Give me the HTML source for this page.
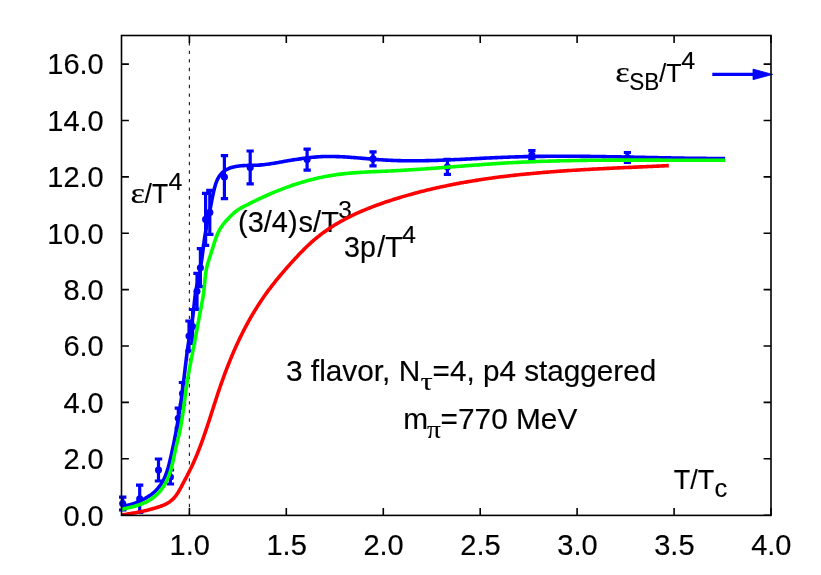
<!DOCTYPE html>
<html><head><meta charset="utf-8"><title>plot</title>
<style>html,body{margin:0;padding:0;background:#fff}svg{display:block;will-change:transform}text{font-family:"Liberation Sans",sans-serif;fill:#000;stroke:#000;stroke-width:0.15px}.g{font-family:"Liberation Serif",serif}</style></head><body>
<svg width="821" height="575" viewBox="0 0 821 575">
<rect width="821" height="575" fill="#fff"/>
<defs><clipPath id="c"><rect x="121.5" y="35.5" width="649.5" height="479.9"/></clipPath></defs>
<line x1="189.4" y1="515.75" x2="189.4" y2="35.5" stroke="#222" stroke-width="1.15" stroke-dasharray="3.4 5.15"/>
<text class="g" transform="translate(130.60 203.40) scale(1.150 1.000)" font-size="30" text-anchor="start">ε</text>
<text transform="translate(144.60 203.40) scale(1.000 1.040)" font-size="26.5" text-anchor="start">/T</text>
<text transform="translate(168.60 189.70) scale(1.000 0.980)" font-size="25" text-anchor="start">4</text>
<text transform="translate(238.00 232.20) scale(1.000 1.040)" font-size="29" text-anchor="start">(3/4)</text>
<text transform="translate(298.60 232.20) scale(1.000 1.040)" font-size="29" text-anchor="start">s/T</text>
<text transform="translate(338.30 217.50) scale(1.000 0.980)" font-size="24.5" text-anchor="start">3</text>
<text transform="translate(344.00 257.40) scale(1.000 1.040)" font-size="28.6" text-anchor="start">3p</text>
<text transform="translate(377.30 257.40) scale(1.000 1.040)" font-size="28.6" text-anchor="start">/T</text>
<text transform="translate(401.90 243.30) scale(1.000 0.980)" font-size="25" text-anchor="start">4</text>
<text class="g" transform="translate(615.30 82.00) scale(1.150 1.000)" font-size="30" text-anchor="start">ε</text>
<text transform="translate(629.20 90.10) scale(1.000 1.040)" font-size="22.5" text-anchor="start">SB</text>
<text transform="translate(659.30 82.00) scale(1.000 1.040)" font-size="25" text-anchor="start">/T</text>
<text transform="translate(681.20 69.30) scale(1.000 0.980)" font-size="25" text-anchor="start">4</text>
<text transform="translate(286.00 381.20) scale(1.000 1.000)" font-size="29.8" text-anchor="start">3 flavor, N</text>
<text class="g" transform="translate(420.40 389.60) scale(1.220 1.000)" font-size="25" text-anchor="start">τ</text>
<text transform="translate(432.60 381.20) scale(1.000 1.000)" font-size="29.7" text-anchor="start">=4, p4 staggered</text>
<text transform="translate(403.20 429.10) scale(1.000 1.000)" font-size="29.8" text-anchor="start">m</text>
<text class="g" transform="translate(427.00 438.00) scale(1.100 1.000)" font-size="25" text-anchor="start">π</text>
<text transform="translate(440.60 429.10) scale(1.000 1.000)" font-size="29.8" text-anchor="start">=770 MeV</text>
<text transform="translate(673.80 488.80) scale(1.000 1.040)" font-size="27" text-anchor="start">T/T</text>
<text transform="translate(714.60 497.10) scale(1.000 1.040)" font-size="25.5" text-anchor="start">c</text>
<g fill="none" stroke-linejoin="round">
<path d="M122.7 497.2V510.0 M119.0 497.2H126.4 M119.0 510.0H126.4 M139.7 485.2V512.5 M136.0 485.2H143.3 M136.0 512.5H143.3 M158.5 459.0V481.0 M154.8 459.0H162.2 M154.8 481.0H162.2 M170.4 470.0V484.0 M166.8 470.0H174.1 M166.8 484.0H174.1 M178.3 408.2V428.2 M174.7 408.2H182.0 M174.7 428.2H182.0 M182.5 382.5V404.5 M178.8 382.5H186.2 M178.8 404.5H186.2 M189.0 321.0V351.0 M185.3 321.0H192.7 M185.3 351.0H192.7 M192.6 309.5V343.5 M188.9 309.5H196.2 M188.9 343.5H196.2 M197.0 273.3V309.3 M193.3 273.3H200.7 M193.3 309.3H200.7 M200.4 248.7V286.7 M196.8 248.7H204.1 M196.8 286.7H204.1 M205.6 193.4V245.4 M201.9 193.4H209.2 M201.9 245.4H209.2 M209.8 190.4V234.4 M206.2 190.4H213.5 M206.2 234.4H213.5 M224.4 155.6V198.6 M220.8 155.6H228.1 M220.8 198.6H228.1 M250.2 151.0V183.8 M246.5 151.0H253.8 M246.5 183.8H253.8 M307.1 149.1V170.1 M303.5 149.1H310.8 M303.5 170.1H310.8 M373.0 151.8V165.8 M369.4 151.8H376.6 M369.4 165.8H376.6 M447.4 159.4V174.4 M443.8 159.4H451.0 M443.8 174.4H451.0 M531.9 150.6V159.6 M528.2 150.6H535.5 M528.2 159.6H535.5 M627.4 152.5V162.5 M623.8 152.5H631.0 M623.8 162.5H631.0" stroke="#00f" stroke-width="3.2"/>
<circle cx="122.7" cy="503.6" r="3.55" fill="#00f" stroke="none"/>
<circle cx="139.7" cy="498.9" r="3.55" fill="#00f" stroke="none"/>
<circle cx="158.5" cy="470.0" r="3.55" fill="#00f" stroke="none"/>
<circle cx="170.4" cy="477.0" r="3.55" fill="#00f" stroke="none"/>
<circle cx="178.3" cy="418.2" r="3.55" fill="#00f" stroke="none"/>
<circle cx="182.5" cy="393.5" r="3.55" fill="#00f" stroke="none"/>
<circle cx="189.0" cy="336.0" r="3.55" fill="#00f" stroke="none"/>
<circle cx="192.6" cy="326.5" r="3.55" fill="#00f" stroke="none"/>
<circle cx="197.0" cy="291.3" r="3.55" fill="#00f" stroke="none"/>
<circle cx="200.4" cy="267.7" r="3.55" fill="#00f" stroke="none"/>
<circle cx="205.6" cy="219.4" r="3.55" fill="#00f" stroke="none"/>
<circle cx="209.8" cy="212.4" r="3.55" fill="#00f" stroke="none"/>
<circle cx="224.4" cy="177.1" r="3.55" fill="#00f" stroke="none"/>
<circle cx="250.2" cy="167.4" r="3.55" fill="#00f" stroke="none"/>
<circle cx="307.1" cy="159.6" r="3.55" fill="#00f" stroke="none"/>
<circle cx="373.0" cy="158.8" r="3.55" fill="#00f" stroke="none"/>
<circle cx="447.4" cy="166.9" r="3.55" fill="#00f" stroke="none"/>
<circle cx="531.9" cy="155.1" r="3.55" fill="#00f" stroke="none"/>
<circle cx="627.4" cy="157.5" r="3.55" fill="#00f" stroke="none"/>
</g><g clip-path="url(#c)" fill="none" stroke-linejoin="round">
<path d="M121.50 506.80 C121.86 506.73 122.94 506.52 123.66 506.36 C124.37 506.21 125.08 506.04 125.79 505.87 C126.50 505.70 127.20 505.52 127.90 505.33 C128.61 505.14 129.30 504.94 130.00 504.73 C130.69 504.52 131.38 504.30 132.07 504.08 C132.76 503.85 133.44 503.61 134.12 503.37 C134.80 503.12 135.48 502.87 136.16 502.61 C136.83 502.34 137.51 502.07 138.18 501.79 C138.85 501.51 139.52 501.21 140.18 500.91 C140.85 500.61 141.51 500.30 142.17 499.98 C142.82 499.66 143.48 499.33 144.13 498.98 C144.77 498.64 145.42 498.29 146.05 497.92 C146.68 497.56 147.31 497.18 147.93 496.79 C148.55 496.41 149.16 496.01 149.76 495.59 C150.36 495.18 150.95 494.75 151.53 494.31 C152.11 493.87 152.68 493.42 153.24 492.95 C153.79 492.48 154.34 492.00 154.87 491.51 C155.39 491.01 155.91 490.50 156.41 489.97 C156.91 489.45 157.40 488.91 157.87 488.36 C158.34 487.81 158.80 487.24 159.24 486.66 C159.68 486.09 160.11 485.50 160.52 484.90 C160.94 484.30 161.34 483.69 161.72 483.07 C162.11 482.45 162.48 481.82 162.83 481.18 C163.19 480.55 163.53 479.90 163.86 479.25 C164.19 478.60 164.50 477.94 164.80 477.27 C165.10 476.61 165.39 475.94 165.66 475.26 C165.93 474.59 166.18 473.91 166.43 473.22 C166.68 472.54 166.91 471.85 167.13 471.16 C167.36 470.47 167.57 469.77 167.77 469.08 C167.98 468.38 168.17 467.68 168.37 466.98 C168.56 466.27 168.74 465.57 168.92 464.87 C169.10 464.16 169.27 463.45 169.45 462.75 C169.62 462.04 169.79 461.33 169.96 460.62 C170.13 459.92 170.30 459.21 170.46 458.50 C170.63 457.79 170.79 457.08 170.96 456.37 C171.12 455.66 171.28 454.95 171.44 454.24 C171.60 453.53 171.76 452.82 171.92 452.11 C172.07 451.40 172.23 450.69 172.38 449.97 C172.53 449.26 172.69 448.55 172.84 447.84 C172.99 447.13 173.14 446.41 173.29 445.70 C173.43 444.99 173.58 444.28 173.72 443.56 C173.87 442.85 174.01 442.14 174.16 441.42 C174.30 440.71 174.44 439.99 174.58 439.28 C174.72 438.57 174.86 437.85 175.00 437.14 C175.13 436.42 175.27 435.71 175.41 434.99 C175.54 434.28 175.68 433.56 175.81 432.85 C175.94 432.13 176.07 431.41 176.20 430.70 C176.33 429.98 176.46 429.27 176.59 428.55 C176.72 427.83 176.85 427.12 176.97 426.40 C177.10 425.69 177.23 424.97 177.35 424.25 C177.47 423.53 177.60 422.82 177.72 422.10 C177.84 421.38 177.96 420.67 178.08 419.95 C178.20 419.23 178.32 418.51 178.44 417.80 C178.56 417.08 178.67 416.36 178.79 415.64 C178.90 414.92 179.02 414.21 179.13 413.49 C179.25 412.77 179.36 412.05 179.47 411.33 C179.58 410.61 179.69 409.89 179.80 409.17 C179.91 408.46 180.02 407.74 180.13 407.02 C180.24 406.30 180.34 405.58 180.45 404.86 C180.56 404.14 180.66 403.42 180.77 402.70 C180.87 401.98 180.97 401.26 181.08 400.54 C181.18 399.82 181.28 399.10 181.38 398.38 C181.48 397.66 181.58 396.94 181.68 396.22 C181.78 395.49 181.88 394.77 181.97 394.05 C182.07 393.33 182.17 392.61 182.26 391.89 C182.36 391.17 182.45 390.45 182.55 389.72 C182.64 389.00 182.73 388.28 182.83 387.56 C182.92 386.84 183.01 386.12 183.10 385.39 C183.19 384.67 183.28 383.95 183.37 383.23 C183.46 382.51 183.55 381.78 183.63 381.06 C183.72 380.34 183.81 379.62 183.90 378.89 C183.98 378.17 184.07 377.45 184.16 376.72 C184.24 376.00 184.33 375.28 184.41 374.56 C184.50 373.83 184.58 373.11 184.67 372.39 C184.76 371.66 184.84 370.94 184.93 370.22 C185.01 369.50 185.10 368.77 185.18 368.05 C185.27 367.33 185.35 366.60 185.44 365.88 C185.53 365.16 185.61 364.44 185.70 363.71 C185.79 362.99 185.87 362.27 185.96 361.55 C186.05 360.82 186.14 360.10 186.23 359.38 C186.32 358.66 186.41 357.93 186.50 357.21 C186.59 356.49 186.68 355.77 186.78 355.05 C186.87 354.33 186.96 353.60 187.06 352.88 C187.15 352.16 187.25 351.44 187.35 350.72 C187.45 350.00 187.54 349.28 187.64 348.56 C187.74 347.83 187.85 347.11 187.95 346.39 C188.05 345.67 188.16 344.95 188.26 344.23 C188.37 343.51 188.48 342.80 188.59 342.08 C188.70 341.36 188.81 340.64 188.92 339.92 C189.04 339.20 189.15 338.48 189.27 337.76 C189.38 337.05 189.50 336.33 189.62 335.61 C189.74 334.89 189.86 334.17 189.98 333.46 C190.10 332.74 190.22 332.02 190.34 331.30 C190.46 330.59 190.58 329.87 190.70 329.15 C190.82 328.43 190.94 327.71 191.06 327.00 C191.18 326.28 191.30 325.56 191.42 324.84 C191.53 324.12 191.65 323.41 191.77 322.69 C191.88 321.97 192.00 321.25 192.11 320.53 C192.22 319.81 192.33 319.09 192.44 318.37 C192.55 317.65 192.65 316.93 192.76 316.21 C192.86 315.49 192.96 314.77 193.06 314.05 C193.16 313.33 193.25 312.61 193.34 311.89 C193.44 311.16 193.52 310.44 193.61 309.72 C193.69 309.00 193.77 308.27 193.85 307.55 C193.93 306.82 194.01 306.10 194.08 305.37 C194.16 304.65 194.23 303.92 194.30 303.20 C194.38 302.47 194.45 301.75 194.53 301.03 C194.60 300.30 194.68 299.58 194.76 298.85 C194.84 298.13 194.93 297.41 195.01 296.68 C195.10 295.96 195.19 295.24 195.29 294.52 C195.39 293.80 195.50 293.08 195.61 292.36 C195.72 291.64 195.84 290.93 195.96 290.21 C196.09 289.50 196.23 288.78 196.37 288.07 C196.51 287.36 196.66 286.64 196.82 285.93 C196.97 285.22 197.13 284.51 197.29 283.80 C197.45 283.09 197.61 282.38 197.77 281.67 C197.93 280.96 198.10 280.25 198.25 279.54 C198.41 278.83 198.57 278.12 198.72 277.41 C198.87 276.69 199.02 275.98 199.17 275.27 C199.31 274.55 199.45 273.84 199.59 273.12 C199.72 272.41 199.86 271.69 199.99 270.98 C200.11 270.26 200.24 269.54 200.36 268.83 C200.48 268.11 200.60 267.39 200.71 266.67 C200.83 265.95 200.94 265.24 201.05 264.52 C201.16 263.80 201.26 263.08 201.37 262.36 C201.47 261.64 201.57 260.92 201.67 260.20 C201.77 259.48 201.87 258.75 201.96 258.03 C202.06 257.31 202.15 256.59 202.25 255.87 C202.34 255.15 202.43 254.43 202.53 253.70 C202.62 252.98 202.71 252.26 202.80 251.54 C202.89 250.82 202.98 250.09 203.07 249.37 C203.17 248.65 203.26 247.93 203.35 247.21 C203.44 246.49 203.54 245.76 203.63 245.04 C203.72 244.32 203.82 243.60 203.92 242.88 C204.01 242.16 204.11 241.44 204.21 240.72 C204.32 239.99 204.42 239.27 204.52 238.55 C204.63 237.83 204.74 237.11 204.85 236.39 C204.96 235.68 205.07 234.96 205.19 234.24 C205.31 233.52 205.43 232.80 205.55 232.08 C205.68 231.37 205.80 230.65 205.93 229.93 C206.06 229.21 206.20 228.50 206.33 227.78 C206.46 227.07 206.60 226.35 206.74 225.63 C206.88 224.92 207.02 224.20 207.16 223.49 C207.30 222.78 207.45 222.06 207.59 221.35 C207.74 220.63 207.88 219.92 208.03 219.21 C208.18 218.49 208.33 217.78 208.47 217.07 C208.62 216.35 208.77 215.64 208.92 214.93 C209.07 214.22 209.21 213.50 209.36 212.79 C209.51 212.08 209.66 211.37 209.80 210.66 C209.95 209.95 210.09 209.23 210.24 208.52 C210.38 207.81 210.53 207.10 210.67 206.39 C210.81 205.68 210.95 204.97 211.08 204.26 C211.22 203.55 211.36 202.83 211.49 202.12 C211.63 201.41 211.77 200.70 211.90 199.99 C212.04 199.28 212.18 198.57 212.32 197.86 C212.46 197.15 212.60 196.44 212.75 195.73 C212.89 195.02 213.04 194.31 213.20 193.59 C213.35 192.88 213.51 192.17 213.67 191.46 C213.84 190.75 214.01 190.04 214.19 189.32 C214.37 188.61 214.56 187.90 214.75 187.19 C214.95 186.47 215.15 185.76 215.37 185.05 C215.59 184.34 215.81 183.63 216.06 182.93 C216.31 182.23 216.57 181.54 216.85 180.86 C217.14 180.18 217.44 179.50 217.77 178.85 C218.10 178.19 218.45 177.55 218.84 176.93 C219.23 176.31 219.64 175.71 220.08 175.13 C220.53 174.55 221.02 174.00 221.52 173.47 C222.03 172.94 222.58 172.44 223.14 171.97 C223.70 171.50 224.29 171.06 224.88 170.66 C225.48 170.25 226.09 169.88 226.71 169.53 C227.33 169.18 227.97 168.87 228.62 168.58 C229.26 168.29 229.92 168.03 230.59 167.80 C231.26 167.56 231.94 167.35 232.62 167.15 C233.31 166.96 234.01 166.80 234.71 166.64 C235.42 166.49 236.13 166.36 236.85 166.25 C237.57 166.13 238.29 166.04 239.02 165.95 C239.75 165.86 240.49 165.79 241.23 165.73 C241.97 165.67 242.72 165.63 243.46 165.59 C244.21 165.54 244.96 165.51 245.71 165.49 C246.47 165.46 247.22 165.44 247.98 165.42 C248.73 165.41 249.49 165.39 250.24 165.38 C250.99 165.37 251.75 165.35 252.50 165.34 C253.25 165.32 254.00 165.31 254.75 165.28 C255.49 165.26 256.24 165.24 256.98 165.20 C257.72 165.17 258.45 165.13 259.18 165.08 C259.92 165.03 260.64 164.97 261.36 164.91 C262.09 164.85 262.81 164.78 263.52 164.70 C264.24 164.63 264.95 164.54 265.67 164.46 C266.38 164.37 267.08 164.28 267.79 164.18 C268.50 164.09 269.20 163.98 269.90 163.88 C270.61 163.77 271.31 163.67 272.01 163.55 C272.71 163.44 273.41 163.33 274.11 163.21 C274.80 163.09 275.50 162.97 276.20 162.85 C276.90 162.73 277.60 162.60 278.30 162.48 C278.99 162.35 279.69 162.22 280.39 162.10 C281.09 161.97 281.80 161.84 282.50 161.72 C283.20 161.59 283.91 161.46 284.61 161.34 C285.32 161.21 286.03 161.09 286.73 160.96 C287.44 160.84 288.16 160.71 288.87 160.59 C289.58 160.47 290.30 160.35 291.01 160.23 C291.73 160.11 292.44 159.99 293.16 159.87 C293.88 159.75 294.60 159.64 295.32 159.53 C296.04 159.41 296.76 159.30 297.49 159.19 C298.21 159.08 298.93 158.97 299.66 158.87 C300.38 158.76 301.11 158.66 301.83 158.56 C302.56 158.46 303.29 158.36 304.02 158.27 C304.74 158.17 305.47 158.08 306.20 157.99 C306.93 157.91 307.66 157.82 308.39 157.74 C309.12 157.65 309.85 157.57 310.58 157.50 C311.31 157.42 312.05 157.35 312.78 157.28 C313.51 157.21 314.24 157.15 314.97 157.09 C315.70 157.03 316.44 156.97 317.17 156.92 C317.90 156.87 318.63 156.82 319.36 156.78 C320.10 156.73 320.83 156.69 321.56 156.66 C322.29 156.62 323.02 156.59 323.75 156.57 C324.48 156.54 325.21 156.52 325.94 156.51 C326.67 156.49 327.40 156.48 328.13 156.47 C328.86 156.47 329.59 156.46 330.32 156.47 C331.05 156.47 331.78 156.47 332.51 156.48 C333.24 156.49 333.97 156.50 334.69 156.52 C335.42 156.53 336.15 156.55 336.88 156.58 C337.60 156.60 338.33 156.63 339.06 156.65 C339.79 156.68 340.51 156.71 341.24 156.75 C341.97 156.78 342.69 156.82 343.42 156.86 C344.15 156.90 344.87 156.94 345.60 156.99 C346.32 157.03 347.05 157.08 347.77 157.13 C348.50 157.17 349.23 157.22 349.95 157.28 C350.68 157.33 351.40 157.38 352.13 157.44 C352.85 157.49 353.58 157.55 354.30 157.61 C355.03 157.66 355.75 157.72 356.48 157.78 C357.20 157.84 357.93 157.90 358.65 157.97 C359.37 158.03 360.10 158.09 360.82 158.15 C361.55 158.21 362.27 158.28 363.00 158.34 C363.72 158.40 364.44 158.47 365.17 158.53 C365.89 158.59 366.62 158.66 367.34 158.72 C368.07 158.78 368.79 158.84 369.51 158.90 C370.24 158.97 370.96 159.03 371.69 159.09 C372.41 159.15 373.13 159.21 373.86 159.27 C374.58 159.32 375.31 159.38 376.03 159.44 C376.75 159.49 377.48 159.55 378.20 159.60 C378.93 159.65 379.65 159.70 380.38 159.75 C381.10 159.80 381.83 159.85 382.55 159.89 C383.27 159.94 384.00 159.98 384.72 160.03 C385.45 160.07 386.17 160.11 386.90 160.14 C387.62 160.18 388.35 160.22 389.07 160.25 C389.80 160.29 390.52 160.32 391.25 160.35 C391.97 160.38 392.70 160.41 393.42 160.43 C394.15 160.46 394.87 160.49 395.60 160.51 C396.33 160.53 397.05 160.56 397.78 160.58 C398.50 160.60 399.23 160.62 399.95 160.63 C400.68 160.65 401.41 160.67 402.13 160.68 C402.86 160.69 403.58 160.71 404.31 160.72 C405.03 160.73 405.76 160.74 406.49 160.75 C407.21 160.75 407.94 160.76 408.66 160.77 C409.39 160.77 410.12 160.77 410.84 160.78 C411.57 160.78 412.30 160.78 413.02 160.78 C413.75 160.78 414.48 160.78 415.20 160.78 C415.93 160.77 416.65 160.77 417.38 160.76 C418.11 160.76 418.83 160.75 419.56 160.75 C420.29 160.74 421.01 160.73 421.74 160.72 C422.47 160.71 423.19 160.70 423.92 160.69 C424.65 160.67 425.38 160.66 426.10 160.65 C426.83 160.63 427.56 160.62 428.28 160.60 C429.01 160.59 429.74 160.57 430.46 160.55 C431.19 160.53 431.92 160.51 432.65 160.49 C433.37 160.47 434.10 160.45 434.83 160.43 C435.55 160.41 436.28 160.39 437.01 160.36 C437.74 160.34 438.46 160.32 439.19 160.29 C439.92 160.27 440.65 160.24 441.37 160.21 C442.10 160.19 442.83 160.16 443.56 160.13 C444.28 160.11 445.01 160.08 445.74 160.05 C446.47 160.02 447.19 159.99 447.92 159.96 C448.65 159.93 449.38 159.90 450.10 159.87 C450.83 159.84 451.56 159.80 452.29 159.77 C453.01 159.74 453.74 159.71 454.47 159.67 C455.20 159.64 455.93 159.61 456.65 159.57 C457.38 159.54 458.11 159.51 458.84 159.47 C459.56 159.44 460.29 159.40 461.02 159.37 C461.75 159.33 462.48 159.30 463.20 159.26 C463.93 159.22 464.66 159.19 465.39 159.15 C466.11 159.12 466.84 159.08 467.57 159.04 C468.30 159.01 469.03 158.97 469.75 158.93 C470.48 158.90 471.21 158.86 471.94 158.82 C472.67 158.78 473.39 158.75 474.12 158.71 C474.85 158.67 475.58 158.64 476.31 158.60 C477.03 158.56 477.76 158.52 478.49 158.49 C479.22 158.45 479.95 158.41 480.67 158.38 C481.40 158.34 482.13 158.30 482.86 158.27 C483.58 158.23 484.31 158.19 485.04 158.16 C485.77 158.12 486.50 158.09 487.22 158.05 C487.95 158.02 488.68 157.98 489.41 157.94 C490.14 157.91 490.86 157.87 491.59 157.84 C492.32 157.81 493.05 157.77 493.78 157.74 C494.50 157.70 495.23 157.67 495.96 157.64 C496.69 157.61 497.41 157.57 498.14 157.54 C498.87 157.51 499.60 157.48 500.33 157.45 C501.05 157.42 501.78 157.39 502.51 157.36 C503.24 157.33 503.96 157.30 504.69 157.27 C505.42 157.24 506.15 157.21 506.87 157.19 C507.60 157.16 508.33 157.13 509.06 157.11 C509.79 157.08 510.51 157.06 511.24 157.03 C511.97 157.01 512.70 156.98 513.42 156.96 C514.15 156.94 514.88 156.91 515.61 156.89 C516.33 156.87 517.06 156.85 517.79 156.83 C518.51 156.81 519.24 156.79 519.97 156.77 C520.70 156.75 521.42 156.73 522.15 156.71 C522.88 156.69 523.61 156.67 524.33 156.66 C525.06 156.64 525.79 156.62 526.52 156.61 C527.24 156.59 527.97 156.58 528.70 156.56 C529.42 156.55 530.15 156.53 530.88 156.52 C531.61 156.51 532.33 156.49 533.06 156.48 C533.79 156.47 534.51 156.46 535.24 156.44 C535.97 156.43 536.70 156.42 537.42 156.41 C538.15 156.40 538.88 156.39 539.60 156.38 C540.33 156.37 541.06 156.36 541.79 156.36 C542.51 156.35 543.24 156.34 543.97 156.33 C544.69 156.33 545.42 156.32 546.15 156.31 C546.88 156.31 547.60 156.30 548.33 156.29 C549.06 156.29 549.78 156.28 550.51 156.28 C551.24 156.28 551.96 156.27 552.69 156.27 C553.42 156.26 554.14 156.26 554.87 156.26 C555.60 156.26 556.33 156.25 557.05 156.25 C557.78 156.25 558.51 156.25 559.23 156.25 C559.96 156.25 560.69 156.25 561.41 156.25 C562.14 156.25 562.87 156.25 563.59 156.25 C564.32 156.25 565.05 156.25 565.78 156.25 C566.50 156.25 567.23 156.25 567.96 156.26 C568.68 156.26 569.41 156.26 570.14 156.26 C570.86 156.27 571.59 156.27 572.32 156.27 C573.04 156.28 573.77 156.28 574.50 156.29 C575.22 156.29 575.95 156.30 576.68 156.30 C577.40 156.31 578.13 156.31 578.86 156.32 C579.58 156.32 580.31 156.33 581.04 156.33 C581.77 156.34 582.49 156.35 583.22 156.35 C583.95 156.36 584.67 156.37 585.40 156.38 C586.13 156.38 586.85 156.39 587.58 156.40 C588.31 156.41 589.03 156.42 589.76 156.42 C590.49 156.43 591.21 156.44 591.94 156.45 C592.67 156.46 593.39 156.47 594.12 156.48 C594.85 156.49 595.57 156.50 596.30 156.51 C597.03 156.52 597.75 156.53 598.48 156.54 C599.21 156.55 599.94 156.56 600.66 156.57 C601.39 156.58 602.12 156.59 602.84 156.61 C603.57 156.62 604.30 156.63 605.02 156.64 C605.75 156.65 606.48 156.66 607.20 156.68 C607.93 156.69 608.66 156.70 609.38 156.71 C610.11 156.73 610.84 156.74 611.56 156.75 C612.29 156.76 613.02 156.78 613.75 156.79 C614.47 156.80 615.20 156.82 615.93 156.83 C616.65 156.84 617.38 156.86 618.11 156.87 C618.83 156.88 619.56 156.90 620.29 156.91 C621.01 156.93 621.74 156.94 622.47 156.95 C623.20 156.97 623.92 156.98 624.65 157.00 C625.38 157.01 626.10 157.03 626.83 157.04 C627.56 157.05 628.28 157.07 629.01 157.08 C629.74 157.10 630.47 157.11 631.19 157.13 C631.92 157.14 632.65 157.16 633.37 157.17 C634.10 157.19 634.83 157.20 635.56 157.22 C636.28 157.23 637.01 157.25 637.74 157.26 C638.46 157.28 639.19 157.29 639.92 157.31 C640.65 157.32 641.37 157.34 642.10 157.35 C642.83 157.37 643.55 157.38 644.28 157.40 C645.01 157.41 645.74 157.43 646.46 157.44 C647.19 157.46 647.92 157.47 648.64 157.49 C649.37 157.50 650.10 157.52 650.83 157.53 C651.55 157.55 652.28 157.56 653.01 157.58 C653.74 157.59 654.46 157.61 655.19 157.62 C655.92 157.64 656.65 157.65 657.37 157.67 C658.10 157.68 658.83 157.70 659.56 157.71 C660.28 157.72 661.01 157.74 661.74 157.75 C662.47 157.77 663.19 157.78 663.92 157.80 C664.65 157.81 665.38 157.82 666.10 157.84 C666.83 157.85 667.56 157.87 668.29 157.88 C669.01 157.89 669.74 157.91 670.47 157.92 C671.20 157.93 671.92 157.95 672.65 157.96 C673.38 157.97 674.11 157.99 674.84 158.00 C675.56 158.01 676.29 158.02 677.02 158.04 C677.75 158.05 678.47 158.06 679.20 158.07 C679.93 158.09 680.66 158.10 681.39 158.11 C682.11 158.12 682.84 158.13 683.57 158.14 C684.30 158.16 685.03 158.17 685.75 158.18 C686.48 158.19 687.21 158.20 687.94 158.21 C688.67 158.22 689.39 158.23 690.12 158.24 C690.85 158.25 691.58 158.26 692.31 158.27 C693.04 158.28 693.76 158.29 694.49 158.30 C695.22 158.31 695.95 158.32 696.68 158.32 C697.41 158.33 698.13 158.34 698.86 158.35 C699.59 158.36 700.32 158.37 701.05 158.37 C701.78 158.38 702.50 158.39 703.23 158.39 C703.96 158.40 704.69 158.41 705.42 158.41 C706.15 158.42 706.88 158.43 707.61 158.43 C708.33 158.44 709.06 158.44 709.79 158.45 C710.52 158.45 711.25 158.46 711.98 158.46 C712.71 158.47 713.44 158.47 714.16 158.47 C714.89 158.48 715.62 158.48 716.35 158.48 C717.08 158.49 717.81 158.49 718.54 158.49 C719.27 158.49 720.00 158.49 720.73 158.50 C721.45 158.50 722.18 158.50 722.91 158.50 C723.64 158.50 724.74 158.50 725.10 158.50" stroke="#00f" stroke-width="3.6"/>
<path d="M121.49 515.00 C121.80 514.95 122.70 514.82 123.30 514.73 C123.90 514.64 124.50 514.55 125.10 514.46 C125.70 514.37 126.30 514.27 126.89 514.18 C127.49 514.09 128.09 513.99 128.68 513.90 C129.28 513.80 129.87 513.70 130.47 513.60 C131.06 513.50 131.65 513.40 132.25 513.30 C132.84 513.20 133.43 513.09 134.02 512.99 C134.61 512.88 135.20 512.77 135.79 512.66 C136.38 512.55 136.97 512.44 137.56 512.33 C138.15 512.21 138.74 512.10 139.33 511.98 C139.91 511.86 140.50 511.74 141.09 511.61 C141.67 511.49 142.26 511.36 142.85 511.23 C143.43 511.11 144.02 510.97 144.60 510.84 C145.19 510.70 145.77 510.57 146.35 510.43 C146.94 510.29 147.52 510.14 148.10 510.00 C148.69 509.85 149.27 509.70 149.85 509.55 C150.43 509.39 151.02 509.23 151.60 509.07 C152.18 508.91 152.76 508.75 153.34 508.58 C153.92 508.42 154.51 508.24 155.09 508.07 C155.67 507.89 156.25 507.72 156.83 507.53 C157.41 507.35 157.99 507.16 158.56 506.96 C159.14 506.77 159.72 506.57 160.29 506.36 C160.86 506.16 161.43 505.94 162.00 505.72 C162.57 505.50 163.13 505.27 163.69 505.03 C164.25 504.79 164.81 504.54 165.36 504.28 C165.91 504.02 166.45 503.75 166.99 503.46 C167.52 503.18 168.05 502.89 168.56 502.57 C169.07 502.26 169.57 501.93 170.05 501.58 C170.53 501.24 171.00 500.87 171.45 500.49 C171.90 500.11 172.33 499.71 172.75 499.30 C173.17 498.89 173.58 498.46 173.97 498.03 C174.37 497.59 174.75 497.13 175.12 496.67 C175.49 496.21 175.85 495.74 176.20 495.25 C176.56 494.77 176.90 494.28 177.23 493.77 C177.56 493.27 177.89 492.76 178.21 492.25 C178.52 491.73 178.83 491.21 179.14 490.68 C179.45 490.16 179.75 489.63 180.04 489.09 C180.34 488.56 180.63 488.02 180.92 487.48 C181.21 486.94 181.50 486.40 181.78 485.86 C182.07 485.32 182.35 484.77 182.63 484.23 C182.92 483.69 183.20 483.16 183.49 482.62 C183.77 482.08 184.05 481.55 184.34 481.01 C184.62 480.48 184.90 479.94 185.18 479.41 C185.46 478.88 185.75 478.35 186.03 477.82 C186.31 477.28 186.59 476.75 186.86 476.22 C187.14 475.69 187.42 475.16 187.69 474.63 C187.97 474.10 188.24 473.56 188.51 473.03 C188.78 472.50 189.05 471.97 189.32 471.43 C189.59 470.90 189.86 470.37 190.12 469.83 C190.38 469.30 190.64 468.76 190.90 468.22 C191.16 467.69 191.42 467.15 191.68 466.61 C191.93 466.07 192.18 465.53 192.43 464.99 C192.68 464.44 192.93 463.90 193.18 463.36 C193.43 462.81 193.67 462.27 193.91 461.72 C194.16 461.18 194.40 460.63 194.64 460.08 C194.87 459.54 195.11 458.99 195.35 458.44 C195.58 457.89 195.81 457.34 196.05 456.79 C196.28 456.24 196.51 455.69 196.74 455.13 C196.96 454.58 197.19 454.03 197.42 453.47 C197.64 452.92 197.86 452.36 198.09 451.81 C198.31 451.25 198.53 450.70 198.75 450.14 C198.96 449.58 199.18 449.02 199.40 448.46 C199.61 447.90 199.83 447.34 200.04 446.78 C200.25 446.22 200.47 445.66 200.68 445.10 C200.89 444.54 201.10 443.98 201.30 443.41 C201.51 442.85 201.72 442.29 201.92 441.72 C202.13 441.16 202.33 440.59 202.54 440.03 C202.74 439.46 202.94 438.90 203.14 438.33 C203.34 437.77 203.54 437.20 203.74 436.63 C203.94 436.06 204.14 435.49 204.34 434.93 C204.53 434.36 204.73 433.79 204.93 433.22 C205.12 432.65 205.32 432.08 205.51 431.51 C205.70 430.94 205.90 430.37 206.09 429.80 C206.28 429.23 206.47 428.65 206.66 428.08 C206.86 427.51 207.05 426.94 207.24 426.36 C207.43 425.79 207.61 425.22 207.80 424.65 C207.99 424.07 208.18 423.50 208.37 422.92 C208.56 422.35 208.74 421.78 208.93 421.20 C209.12 420.63 209.30 420.05 209.49 419.48 C209.68 418.90 209.86 418.33 210.05 417.75 C210.23 417.18 210.42 416.60 210.60 416.02 C210.79 415.45 210.97 414.87 211.16 414.30 C211.34 413.72 211.53 413.14 211.71 412.57 C211.90 411.99 212.08 411.41 212.27 410.84 C212.45 410.26 212.64 409.68 212.82 409.11 C213.00 408.53 213.19 407.95 213.37 407.38 C213.56 406.80 213.74 406.22 213.93 405.65 C214.11 405.07 214.30 404.49 214.49 403.91 C214.67 403.34 214.86 402.76 215.04 402.18 C215.23 401.61 215.42 401.03 215.60 400.45 C215.79 399.88 215.98 399.30 216.17 398.72 C216.35 398.15 216.54 397.57 216.73 397.00 C216.92 396.42 217.11 395.84 217.30 395.27 C217.49 394.69 217.68 394.12 217.87 393.54 C218.06 392.96 218.25 392.39 218.44 391.81 C218.64 391.24 218.83 390.66 219.02 390.09 C219.22 389.51 219.41 388.94 219.61 388.37 C219.80 387.79 220.00 387.22 220.20 386.64 C220.39 386.07 220.59 385.50 220.79 384.92 C220.99 384.35 221.19 383.78 221.39 383.21 C221.59 382.64 221.80 382.06 222.00 381.49 C222.20 380.92 222.40 380.35 222.61 379.78 C222.81 379.21 223.02 378.64 223.23 378.07 C223.43 377.50 223.64 376.93 223.85 376.36 C224.06 375.79 224.27 375.22 224.48 374.65 C224.69 374.08 224.90 373.52 225.11 372.95 C225.33 372.38 225.54 371.81 225.75 371.25 C225.97 370.68 226.18 370.11 226.40 369.55 C226.62 368.98 226.83 368.42 227.05 367.85 C227.27 367.29 227.49 366.72 227.71 366.16 C227.93 365.60 228.16 365.03 228.38 364.47 C228.60 363.91 228.83 363.35 229.05 362.78 C229.28 362.22 229.50 361.66 229.73 361.10 C229.96 360.54 230.19 359.98 230.42 359.42 C230.65 358.86 230.88 358.30 231.11 357.74 C231.34 357.18 231.58 356.63 231.81 356.07 C232.04 355.51 232.28 354.96 232.52 354.40 C232.75 353.84 232.99 353.29 233.23 352.73 C233.47 352.18 233.71 351.63 233.95 351.07 C234.19 350.52 234.43 349.97 234.68 349.41 C234.92 348.86 235.17 348.31 235.41 347.76 C235.66 347.21 235.91 346.66 236.16 346.11 C236.41 345.56 236.66 345.01 236.91 344.46 C237.16 343.91 237.41 343.37 237.67 342.82 C237.92 342.27 238.17 341.73 238.43 341.18 C238.69 340.64 238.95 340.09 239.20 339.55 C239.46 339.01 239.72 338.46 239.99 337.92 C240.25 337.38 240.51 336.84 240.77 336.30 C241.04 335.76 241.31 335.22 241.57 334.68 C241.84 334.14 242.11 333.60 242.38 333.06 C242.65 332.52 242.92 331.99 243.19 331.45 C243.46 330.92 243.74 330.38 244.01 329.85 C244.29 329.31 244.57 328.78 244.84 328.25 C245.12 327.72 245.40 327.18 245.68 326.65 C245.96 326.12 246.25 325.59 246.53 325.06 C246.81 324.54 247.10 324.01 247.39 323.48 C247.67 322.95 247.96 322.43 248.25 321.90 C248.54 321.38 248.83 320.85 249.13 320.33 C249.42 319.81 249.71 319.28 250.01 318.76 C250.30 318.24 250.60 317.72 250.90 317.20 C251.20 316.68 251.50 316.16 251.80 315.65 C252.10 315.13 252.41 314.61 252.71 314.10 C253.02 313.58 253.32 313.07 253.63 312.55 C253.94 312.04 254.25 311.53 254.56 311.02 C254.87 310.51 255.18 309.99 255.50 309.49 C255.81 308.98 256.13 308.47 256.45 307.96 C256.76 307.45 257.08 306.95 257.40 306.44 C257.73 305.94 258.05 305.43 258.37 304.93 C258.70 304.43 259.02 303.93 259.35 303.43 C259.68 302.93 260.01 302.43 260.34 301.93 C260.67 301.43 261.00 300.93 261.33 300.44 C261.67 299.94 262.00 299.45 262.34 298.95 C262.68 298.46 263.02 297.97 263.36 297.47 C263.70 296.98 264.04 296.49 264.39 296.00 C264.73 295.51 265.08 295.03 265.42 294.54 C265.77 294.05 266.12 293.57 266.47 293.08 C266.82 292.60 267.18 292.11 267.53 291.63 C267.88 291.15 268.24 290.67 268.60 290.19 C268.95 289.71 269.31 289.23 269.67 288.75 C270.03 288.27 270.40 287.80 270.76 287.32 C271.12 286.84 271.49 286.37 271.85 285.89 C272.22 285.42 272.59 284.95 272.96 284.47 C273.33 284.00 273.70 283.53 274.07 283.06 C274.44 282.59 274.82 282.12 275.19 281.65 C275.57 281.18 275.94 280.71 276.32 280.24 C276.70 279.78 277.08 279.31 277.46 278.84 C277.84 278.38 278.22 277.91 278.60 277.45 C278.99 276.99 279.37 276.52 279.75 276.06 C280.14 275.60 280.53 275.13 280.92 274.67 C281.30 274.21 281.69 273.75 282.08 273.29 C282.47 272.83 282.87 272.37 283.26 271.91 C283.65 271.46 284.05 271.00 284.44 270.54 C284.84 270.08 285.23 269.63 285.63 269.17 C286.03 268.72 286.43 268.26 286.83 267.81 C287.23 267.35 287.63 266.90 288.03 266.44 C288.43 265.99 288.83 265.54 289.24 265.08 C289.64 264.63 290.05 264.18 290.45 263.73 C290.86 263.27 291.26 262.82 291.67 262.37 C292.08 261.92 292.49 261.47 292.90 261.02 C293.31 260.57 293.72 260.12 294.13 259.67 C294.54 259.22 294.96 258.78 295.37 258.33 C295.78 257.88 296.20 257.43 296.62 256.99 C297.03 256.54 297.45 256.10 297.87 255.66 C298.29 255.21 298.71 254.77 299.13 254.33 C299.55 253.89 299.97 253.45 300.40 253.01 C300.82 252.57 301.25 252.14 301.67 251.70 C302.10 251.26 302.53 250.83 302.96 250.40 C303.39 249.97 303.82 249.54 304.25 249.11 C304.68 248.68 305.12 248.25 305.55 247.83 C305.99 247.40 306.43 246.98 306.87 246.56 C307.30 246.14 307.74 245.72 308.19 245.30 C308.63 244.89 309.07 244.47 309.52 244.06 C309.97 243.65 310.41 243.24 310.86 242.83 C311.31 242.42 311.76 242.02 312.22 241.62 C312.67 241.22 313.12 240.82 313.58 240.42 C314.04 240.03 314.50 239.63 314.96 239.24 C315.42 238.85 315.88 238.46 316.35 238.08 C316.81 237.70 317.28 237.31 317.75 236.94 C318.22 236.56 318.69 236.18 319.16 235.81 C319.64 235.44 320.11 235.07 320.59 234.70 C321.07 234.34 321.54 233.97 322.03 233.61 C322.51 233.25 322.99 232.90 323.47 232.54 C323.96 232.19 324.45 231.84 324.93 231.49 C325.42 231.14 325.91 230.79 326.41 230.45 C326.90 230.11 327.39 229.77 327.89 229.43 C328.38 229.09 328.88 228.76 329.38 228.43 C329.88 228.10 330.38 227.77 330.88 227.44 C331.38 227.12 331.89 226.79 332.40 226.47 C332.90 226.15 333.41 225.83 333.92 225.52 C334.43 225.20 334.94 224.89 335.45 224.58 C335.96 224.27 336.48 223.96 336.99 223.65 C337.51 223.35 338.02 223.04 338.54 222.74 C339.06 222.44 339.58 222.14 340.10 221.85 C340.62 221.55 341.15 221.26 341.67 220.97 C342.19 220.68 342.72 220.39 343.25 220.10 C343.77 219.82 344.30 219.53 344.83 219.25 C345.36 218.97 345.89 218.69 346.43 218.42 C346.96 218.14 347.49 217.86 348.03 217.59 C348.56 217.32 349.10 217.05 349.63 216.78 C350.17 216.51 350.71 216.25 351.25 215.98 C351.79 215.72 352.33 215.46 352.87 215.20 C353.41 214.94 353.96 214.68 354.50 214.43 C355.05 214.17 355.59 213.92 356.14 213.67 C356.68 213.42 357.23 213.17 357.78 212.92 C358.33 212.67 358.88 212.43 359.43 212.18 C359.98 211.94 360.53 211.70 361.08 211.46 C361.64 211.22 362.19 210.98 362.74 210.75 C363.30 210.51 363.85 210.28 364.41 210.05 C364.97 209.81 365.52 209.58 366.08 209.35 C366.64 209.13 367.20 208.90 367.76 208.67 C368.32 208.45 368.88 208.22 369.44 208.00 C370.00 207.78 370.56 207.56 371.12 207.34 C371.68 207.12 372.25 206.91 372.81 206.69 C373.37 206.48 373.94 206.26 374.50 206.05 C375.07 205.84 375.63 205.63 376.20 205.42 C376.77 205.21 377.33 205.00 377.90 204.80 C378.47 204.59 379.04 204.38 379.61 204.18 C380.17 203.98 380.74 203.78 381.31 203.58 C381.88 203.38 382.45 203.18 383.02 202.98 C383.59 202.78 384.16 202.58 384.74 202.39 C385.31 202.19 385.88 202.00 386.45 201.81 C387.02 201.61 387.59 201.42 388.17 201.23 C388.74 201.04 389.31 200.85 389.89 200.67 C390.46 200.48 391.03 200.29 391.61 200.11 C392.18 199.92 392.75 199.73 393.33 199.55 C393.90 199.37 394.48 199.19 395.05 199.01 C395.63 198.82 396.20 198.64 396.78 198.47 C397.35 198.29 397.93 198.11 398.51 197.93 C399.08 197.76 399.66 197.58 400.24 197.41 C400.81 197.23 401.39 197.06 401.97 196.89 C402.54 196.71 403.12 196.54 403.70 196.37 C404.28 196.20 404.85 196.03 405.43 195.87 C406.01 195.70 406.59 195.53 407.17 195.37 C407.75 195.20 408.32 195.04 408.90 194.87 C409.48 194.71 410.06 194.55 410.64 194.39 C411.22 194.22 411.80 194.06 412.38 193.90 C412.96 193.75 413.54 193.59 414.12 193.43 C414.70 193.27 415.28 193.12 415.87 192.96 C416.45 192.81 417.03 192.65 417.61 192.50 C418.19 192.35 418.77 192.19 419.36 192.04 C419.94 191.89 420.52 191.74 421.10 191.59 C421.69 191.44 422.27 191.30 422.85 191.15 C423.43 191.00 424.02 190.86 424.60 190.71 C425.18 190.57 425.77 190.42 426.35 190.28 C426.94 190.14 427.52 189.99 428.10 189.85 C428.69 189.71 429.27 189.57 429.86 189.43 C430.44 189.29 431.03 189.16 431.61 189.02 C432.20 188.88 432.78 188.74 433.37 188.61 C433.96 188.47 434.54 188.34 435.13 188.21 C435.71 188.07 436.30 187.94 436.89 187.81 C437.47 187.68 438.06 187.55 438.65 187.42 C439.23 187.29 439.82 187.16 440.41 187.03 C441.00 186.90 441.58 186.78 442.17 186.65 C442.76 186.52 443.35 186.40 443.94 186.27 C444.52 186.15 445.11 186.03 445.70 185.90 C446.29 185.78 446.88 185.66 447.47 185.54 C448.06 185.42 448.65 185.30 449.24 185.18 C449.82 185.06 450.41 184.94 451.00 184.83 C451.59 184.71 452.18 184.59 452.77 184.48 C453.36 184.36 453.95 184.25 454.54 184.13 C455.14 184.02 455.73 183.91 456.32 183.79 C456.91 183.68 457.50 183.57 458.09 183.46 C458.68 183.35 459.27 183.24 459.86 183.13 C460.46 183.02 461.05 182.91 461.64 182.81 C462.23 182.70 462.82 182.59 463.42 182.49 C464.01 182.38 464.60 182.28 465.19 182.17 C465.79 182.07 466.38 181.97 466.97 181.87 C467.57 181.76 468.16 181.66 468.75 181.56 C469.34 181.46 469.94 181.36 470.53 181.26 C471.13 181.16 471.72 181.06 472.31 180.97 C472.91 180.87 473.50 180.77 474.10 180.67 C474.69 180.58 475.28 180.48 475.88 180.39 C476.47 180.29 477.07 180.20 477.66 180.11 C478.26 180.01 478.85 179.92 479.45 179.83 C480.04 179.74 480.64 179.65 481.23 179.56 C481.83 179.47 482.43 179.38 483.02 179.29 C483.62 179.20 484.21 179.11 484.81 179.03 C485.40 178.94 486.00 178.85 486.60 178.77 C487.19 178.68 487.79 178.59 488.39 178.51 C488.98 178.43 489.58 178.34 490.18 178.26 C490.77 178.17 491.37 178.09 491.97 178.01 C492.56 177.93 493.16 177.85 493.76 177.77 C494.36 177.69 494.95 177.61 495.55 177.53 C496.15 177.45 496.75 177.37 497.35 177.29 C497.94 177.21 498.54 177.14 499.14 177.06 C499.74 176.98 500.34 176.91 500.93 176.83 C501.53 176.76 502.13 176.68 502.73 176.61 C503.33 176.54 503.93 176.46 504.53 176.39 C505.12 176.32 505.72 176.24 506.32 176.17 C506.92 176.10 507.52 176.03 508.12 175.96 C508.72 175.89 509.32 175.82 509.92 175.75 C510.52 175.68 511.12 175.61 511.72 175.55 C512.32 175.48 512.92 175.41 513.52 175.34 C514.12 175.28 514.72 175.21 515.32 175.14 C515.92 175.08 516.52 175.01 517.12 174.95 C517.72 174.88 518.32 174.82 518.92 174.76 C519.52 174.69 520.12 174.63 520.72 174.57 C521.32 174.51 521.92 174.44 522.52 174.38 C523.12 174.32 523.72 174.26 524.32 174.20 C524.92 174.14 525.52 174.08 526.13 174.02 C526.73 173.96 527.33 173.90 527.93 173.85 C528.53 173.79 529.13 173.73 529.73 173.67 C530.33 173.62 530.94 173.56 531.54 173.50 C532.14 173.45 532.74 173.39 533.34 173.34 C533.94 173.28 534.55 173.23 535.15 173.17 C535.75 173.12 536.35 173.06 536.95 173.01 C537.56 172.96 538.16 172.91 538.76 172.85 C539.36 172.80 539.96 172.75 540.57 172.70 C541.17 172.65 541.77 172.60 542.37 172.54 C542.98 172.49 543.58 172.44 544.18 172.39 C544.78 172.34 545.39 172.30 545.99 172.25 C546.59 172.20 547.19 172.15 547.80 172.10 C548.40 172.05 549.00 172.01 549.60 171.96 C550.21 171.91 550.81 171.87 551.41 171.82 C552.01 171.77 552.62 171.73 553.22 171.68 C553.82 171.64 554.43 171.59 555.03 171.55 C555.63 171.50 556.24 171.46 556.84 171.41 C557.44 171.37 558.04 171.33 558.65 171.28 C559.25 171.24 559.85 171.20 560.46 171.15 C561.06 171.11 561.66 171.07 562.27 171.03 C562.87 170.99 563.47 170.94 564.08 170.90 C564.68 170.86 565.28 170.82 565.89 170.78 C566.49 170.74 567.09 170.70 567.70 170.66 C568.30 170.62 568.90 170.58 569.51 170.54 C570.11 170.50 570.71 170.46 571.32 170.43 C571.92 170.39 572.52 170.35 573.13 170.31 C573.73 170.27 574.34 170.24 574.94 170.20 C575.54 170.16 576.15 170.12 576.75 170.09 C577.35 170.05 577.96 170.01 578.56 169.98 C579.16 169.94 579.77 169.91 580.37 169.87 C580.97 169.83 581.58 169.80 582.18 169.76 C582.78 169.73 583.39 169.69 583.99 169.66 C584.60 169.63 585.20 169.59 585.80 169.56 C586.41 169.52 587.01 169.49 587.61 169.46 C588.22 169.42 588.82 169.39 589.42 169.36 C590.03 169.32 590.63 169.29 591.23 169.26 C591.84 169.22 592.44 169.19 593.04 169.16 C593.65 169.13 594.25 169.09 594.85 169.06 C595.46 169.03 596.06 169.00 596.66 168.97 C597.27 168.94 597.87 168.91 598.47 168.87 C599.08 168.84 599.68 168.81 600.28 168.78 C600.89 168.75 601.49 168.72 602.09 168.69 C602.70 168.66 603.30 168.63 603.90 168.60 C604.51 168.57 605.11 168.54 605.71 168.51 C606.32 168.48 606.92 168.45 607.52 168.42 C608.13 168.39 608.73 168.36 609.33 168.33 C609.93 168.30 610.54 168.28 611.14 168.25 C611.74 168.22 612.35 168.19 612.95 168.16 C613.55 168.13 614.15 168.10 614.76 168.07 C615.36 168.05 615.96 168.02 616.56 167.99 C617.17 167.96 617.77 167.93 618.37 167.91 C618.97 167.88 619.58 167.85 620.18 167.82 C620.78 167.79 621.38 167.77 621.99 167.74 C622.59 167.71 623.19 167.68 623.79 167.66 C624.40 167.63 625.00 167.60 625.60 167.57 C626.20 167.55 626.80 167.52 627.40 167.49 C628.01 167.46 628.61 167.44 629.21 167.41 C629.81 167.38 630.41 167.36 631.02 167.33 C631.62 167.30 632.22 167.27 632.82 167.25 C633.42 167.22 634.02 167.19 634.62 167.17 C635.23 167.14 635.83 167.11 636.43 167.09 C637.03 167.06 637.63 167.03 638.23 167.01 C638.83 166.98 639.43 166.95 640.03 166.92 C640.63 166.90 641.24 166.87 641.84 166.84 C642.44 166.82 643.04 166.79 643.64 166.76 C644.24 166.74 644.84 166.71 645.44 166.68 C646.04 166.65 646.64 166.63 647.24 166.60 C647.84 166.57 648.44 166.55 649.04 166.52 C649.64 166.49 650.24 166.46 650.84 166.44 C651.44 166.41 652.04 166.38 652.64 166.36 C653.24 166.33 653.84 166.30 654.44 166.27 C655.04 166.25 655.63 166.22 656.23 166.19 C656.83 166.16 657.43 166.14 658.03 166.11 C658.63 166.08 659.23 166.05 659.83 166.02 C660.43 166.00 661.02 165.97 661.62 165.94 C662.22 165.91 662.82 165.88 663.42 165.85 C664.02 165.83 664.61 165.80 665.21 165.77 C665.81 165.74 666.41 165.71 667.00 165.68 C667.60 165.65 668.50 165.61 668.80 165.59" stroke="#f00" stroke-width="3.6"/>
<path d="M121.50 509.40 C121.84 509.33 122.84 509.10 123.51 508.95 C124.18 508.79 124.86 508.64 125.53 508.49 C126.21 508.34 126.89 508.18 127.57 508.02 C128.25 507.87 128.93 507.71 129.61 507.54 C130.30 507.38 130.98 507.21 131.66 507.04 C132.34 506.86 133.02 506.69 133.70 506.50 C134.38 506.32 135.06 506.13 135.73 505.93 C136.41 505.73 137.08 505.53 137.75 505.31 C138.42 505.10 139.08 504.88 139.75 504.65 C140.41 504.42 141.06 504.18 141.72 503.92 C142.37 503.67 143.02 503.41 143.66 503.13 C144.30 502.86 144.93 502.57 145.56 502.27 C146.19 501.97 146.81 501.66 147.42 501.33 C148.04 501.00 148.64 500.66 149.24 500.30 C149.83 499.94 150.42 499.57 151.00 499.18 C151.58 498.80 152.15 498.40 152.71 497.98 C153.27 497.57 153.82 497.14 154.36 496.70 C154.90 496.26 155.43 495.80 155.95 495.34 C156.47 494.87 156.97 494.39 157.47 493.90 C157.97 493.41 158.45 492.91 158.93 492.40 C159.40 491.89 159.86 491.36 160.31 490.83 C160.76 490.30 161.20 489.75 161.62 489.20 C162.04 488.64 162.45 488.08 162.85 487.51 C163.25 486.93 163.63 486.35 164.00 485.76 C164.37 485.17 164.73 484.57 165.07 483.97 C165.42 483.36 165.75 482.74 166.06 482.12 C166.38 481.50 166.69 480.88 166.98 480.24 C167.28 479.61 167.56 478.97 167.83 478.33 C168.10 477.68 168.37 477.03 168.62 476.38 C168.87 475.73 169.11 475.07 169.35 474.41 C169.58 473.75 169.80 473.09 170.02 472.42 C170.23 471.76 170.44 471.09 170.64 470.42 C170.84 469.75 171.03 469.08 171.22 468.41 C171.41 467.73 171.59 467.06 171.76 466.38 C171.93 465.71 172.10 465.03 172.27 464.36 C172.43 463.68 172.59 463.00 172.74 462.33 C172.90 461.65 173.05 460.97 173.20 460.29 C173.35 459.61 173.50 458.93 173.64 458.25 C173.79 457.57 173.93 456.89 174.08 456.21 C174.22 455.53 174.36 454.85 174.50 454.17 C174.65 453.49 174.79 452.80 174.93 452.12 C175.08 451.44 175.23 450.76 175.37 450.08 C175.52 449.40 175.67 448.72 175.83 448.04 C175.98 447.36 176.14 446.68 176.30 446.00 C176.46 445.32 176.62 444.64 176.79 443.96 C176.95 443.29 177.12 442.61 177.29 441.93 C177.46 441.25 177.63 440.57 177.79 439.89 C177.96 439.21 178.13 438.54 178.29 437.86 C178.46 437.18 178.62 436.50 178.78 435.82 C178.94 435.14 179.09 434.46 179.24 433.77 C179.40 433.09 179.54 432.41 179.69 431.73 C179.83 431.05 179.97 430.36 180.11 429.68 C180.25 428.99 180.38 428.31 180.51 427.63 C180.64 426.94 180.77 426.26 180.90 425.57 C181.02 424.88 181.14 424.20 181.26 423.51 C181.38 422.82 181.50 422.14 181.61 421.45 C181.73 420.76 181.84 420.07 181.95 419.38 C182.06 418.70 182.16 418.01 182.27 417.32 C182.37 416.63 182.48 415.94 182.58 415.25 C182.68 414.56 182.78 413.87 182.88 413.18 C182.98 412.49 183.07 411.80 183.17 411.11 C183.27 410.42 183.36 409.73 183.45 409.04 C183.55 408.34 183.64 407.65 183.73 406.96 C183.82 406.27 183.92 405.58 184.01 404.89 C184.10 404.20 184.19 403.51 184.28 402.81 C184.37 402.12 184.46 401.43 184.55 400.74 C184.64 400.05 184.73 399.36 184.82 398.66 C184.91 397.97 185.00 397.28 185.09 396.59 C185.18 395.90 185.27 395.21 185.36 394.51 C185.46 393.82 185.55 393.13 185.64 392.44 C185.74 391.75 185.83 391.06 185.93 390.37 C186.02 389.68 186.12 388.99 186.22 388.30 C186.32 387.61 186.42 386.92 186.52 386.23 C186.62 385.54 186.72 384.85 186.83 384.16 C186.94 383.47 187.04 382.78 187.15 382.09 C187.26 381.41 187.37 380.72 187.49 380.03 C187.60 379.34 187.71 378.65 187.83 377.97 C187.94 377.28 188.06 376.59 188.18 375.91 C188.30 375.22 188.42 374.53 188.54 373.85 C188.66 373.16 188.78 372.47 188.91 371.79 C189.03 371.10 189.16 370.42 189.28 369.73 C189.41 369.04 189.54 368.36 189.67 367.67 C189.79 366.99 189.92 366.30 190.05 365.62 C190.18 364.93 190.31 364.25 190.44 363.56 C190.58 362.88 190.71 362.19 190.84 361.51 C190.97 360.82 191.10 360.14 191.24 359.46 C191.37 358.77 191.50 358.09 191.64 357.40 C191.77 356.72 191.91 356.03 192.04 355.35 C192.18 354.67 192.31 353.98 192.44 353.30 C192.58 352.61 192.71 351.93 192.85 351.24 C192.98 350.56 193.12 349.88 193.25 349.19 C193.39 348.51 193.52 347.82 193.65 347.14 C193.79 346.45 193.92 345.77 194.05 345.08 C194.18 344.40 194.32 343.71 194.45 343.03 C194.58 342.34 194.71 341.66 194.84 340.97 C194.97 340.29 195.10 339.60 195.23 338.92 C195.36 338.23 195.49 337.55 195.61 336.86 C195.74 336.18 195.87 335.49 195.99 334.80 C196.12 334.12 196.24 333.43 196.37 332.75 C196.49 332.06 196.62 331.37 196.74 330.69 C196.86 330.00 196.99 329.32 197.11 328.63 C197.24 327.94 197.36 327.26 197.48 326.57 C197.61 325.89 197.73 325.20 197.86 324.51 C197.98 323.83 198.10 323.14 198.23 322.46 C198.35 321.77 198.48 321.08 198.61 320.40 C198.73 319.71 198.86 319.03 198.99 318.34 C199.12 317.66 199.24 316.97 199.37 316.29 C199.50 315.60 199.63 314.92 199.77 314.23 C199.90 313.55 200.03 312.86 200.17 312.18 C200.30 311.49 200.43 310.81 200.57 310.13 C200.70 309.44 200.84 308.76 200.97 308.07 C201.10 307.39 201.24 306.71 201.37 306.02 C201.50 305.34 201.63 304.65 201.76 303.97 C201.89 303.28 202.02 302.60 202.14 301.91 C202.27 301.22 202.39 300.54 202.51 299.85 C202.63 299.16 202.75 298.48 202.87 297.79 C202.98 297.10 203.09 296.41 203.20 295.72 C203.31 295.03 203.41 294.34 203.51 293.65 C203.61 292.96 203.70 292.27 203.79 291.58 C203.88 290.88 203.96 290.19 204.04 289.50 C204.12 288.80 204.19 288.10 204.26 287.41 C204.33 286.71 204.40 286.01 204.47 285.32 C204.53 284.62 204.59 283.92 204.66 283.22 C204.72 282.53 204.78 281.83 204.85 281.13 C204.91 280.43 204.97 279.74 205.04 279.04 C205.11 278.35 205.18 277.65 205.26 276.96 C205.34 276.26 205.42 275.57 205.50 274.88 C205.59 274.19 205.68 273.50 205.79 272.81 C205.89 272.13 206.00 271.44 206.11 270.76 C206.23 270.07 206.36 269.39 206.50 268.71 C206.64 268.04 206.79 267.36 206.95 266.69 C207.11 266.01 207.28 265.34 207.46 264.67 C207.64 264.00 207.83 263.33 208.02 262.67 C208.21 262.00 208.41 261.34 208.61 260.67 C208.82 260.01 209.03 259.34 209.24 258.68 C209.45 258.01 209.67 257.35 209.88 256.69 C210.10 256.02 210.32 255.36 210.54 254.69 C210.76 254.03 210.98 253.37 211.20 252.70 C211.41 252.03 211.63 251.36 211.84 250.70 C212.06 250.03 212.27 249.36 212.48 248.68 C212.69 248.01 212.90 247.34 213.10 246.67 C213.31 246.00 213.52 245.33 213.73 244.65 C213.94 243.98 214.16 243.31 214.37 242.65 C214.59 241.98 214.81 241.31 215.03 240.65 C215.26 239.99 215.49 239.33 215.72 238.67 C215.96 238.01 216.20 237.36 216.45 236.71 C216.70 236.06 216.96 235.41 217.23 234.78 C217.50 234.14 217.78 233.50 218.07 232.87 C218.36 232.25 218.66 231.62 218.97 231.01 C219.29 230.39 219.61 229.78 219.96 229.18 C220.30 228.58 220.65 227.99 221.02 227.41 C221.40 226.82 221.78 226.25 222.19 225.68 C222.59 225.11 223.01 224.56 223.44 224.01 C223.87 223.45 224.32 222.91 224.77 222.37 C225.22 221.84 225.68 221.31 226.15 220.78 C226.61 220.25 227.09 219.73 227.57 219.21 C228.04 218.70 228.52 218.18 229.01 217.68 C229.49 217.17 229.98 216.67 230.48 216.17 C230.97 215.68 231.47 215.19 231.98 214.72 C232.49 214.24 233.00 213.77 233.53 213.31 C234.05 212.86 234.58 212.41 235.12 211.98 C235.66 211.55 236.21 211.13 236.77 210.72 C237.34 210.32 237.91 209.93 238.49 209.55 C239.07 209.17 239.67 208.81 240.27 208.46 C240.87 208.11 241.48 207.77 242.09 207.43 C242.70 207.10 243.32 206.77 243.94 206.45 C244.55 206.12 245.18 205.80 245.80 205.48 C246.42 205.16 247.04 204.85 247.67 204.53 C248.29 204.21 248.91 203.90 249.54 203.58 C250.16 203.27 250.78 202.96 251.41 202.65 C252.04 202.33 252.66 202.02 253.29 201.72 C253.92 201.41 254.54 201.10 255.17 200.80 C255.80 200.49 256.43 200.19 257.06 199.89 C257.69 199.59 258.32 199.29 258.95 198.99 C259.58 198.69 260.21 198.40 260.84 198.10 C261.48 197.81 262.11 197.51 262.74 197.22 C263.38 196.93 264.01 196.64 264.65 196.36 C265.28 196.07 265.92 195.78 266.56 195.50 C267.20 195.22 267.83 194.93 268.47 194.65 C269.11 194.37 269.75 194.10 270.39 193.82 C271.03 193.54 271.68 193.27 272.32 193.00 C272.96 192.73 273.60 192.46 274.25 192.19 C274.89 191.92 275.54 191.66 276.19 191.39 C276.83 191.13 277.48 190.87 278.13 190.61 C278.78 190.35 279.42 190.09 280.07 189.84 C280.72 189.58 281.37 189.33 282.03 189.08 C282.68 188.83 283.33 188.58 283.98 188.34 C284.64 188.09 285.29 187.85 285.95 187.61 C286.60 187.36 287.26 187.13 287.91 186.89 C288.57 186.65 289.23 186.42 289.89 186.19 C290.54 185.96 291.20 185.73 291.86 185.50 C292.52 185.27 293.18 185.05 293.85 184.83 C294.51 184.61 295.17 184.39 295.83 184.17 C296.50 183.96 297.16 183.74 297.82 183.53 C298.49 183.32 299.15 183.11 299.82 182.90 C300.49 182.70 301.15 182.50 301.82 182.29 C302.49 182.09 303.16 181.90 303.83 181.70 C304.49 181.51 305.16 181.31 305.83 181.12 C306.51 180.94 307.18 180.75 307.85 180.56 C308.52 180.38 309.19 180.20 309.87 180.02 C310.54 179.84 311.21 179.67 311.89 179.50 C312.56 179.32 313.24 179.16 313.91 178.99 C314.59 178.82 315.27 178.66 315.94 178.50 C316.62 178.34 317.30 178.18 317.98 178.03 C318.65 177.87 319.33 177.72 320.01 177.58 C320.69 177.43 321.37 177.28 322.05 177.14 C322.73 177.00 323.42 176.86 324.10 176.73 C324.78 176.59 325.46 176.46 326.15 176.33 C326.83 176.20 327.51 176.08 328.20 175.96 C328.88 175.83 329.57 175.71 330.25 175.60 C330.94 175.48 331.62 175.37 332.31 175.26 C333.00 175.16 333.68 175.05 334.37 174.95 C335.06 174.85 335.75 174.75 336.43 174.65 C337.12 174.56 337.81 174.46 338.50 174.38 C339.19 174.29 339.88 174.20 340.57 174.12 C341.26 174.03 341.95 173.95 342.64 173.87 C343.33 173.80 344.03 173.72 344.72 173.65 C345.41 173.58 346.10 173.50 346.80 173.44 C347.49 173.37 348.18 173.30 348.87 173.24 C349.57 173.18 350.26 173.12 350.96 173.06 C351.65 173.00 352.34 172.94 353.04 172.89 C353.73 172.83 354.43 172.78 355.12 172.73 C355.82 172.68 356.52 172.63 357.21 172.58 C357.91 172.53 358.60 172.48 359.30 172.44 C360.00 172.40 360.69 172.35 361.39 172.31 C362.09 172.27 362.78 172.23 363.48 172.19 C364.18 172.15 364.88 172.11 365.57 172.07 C366.27 172.04 366.97 172.00 367.67 171.97 C368.36 171.93 369.06 171.90 369.76 171.86 C370.46 171.83 371.16 171.80 371.86 171.77 C372.55 171.73 373.25 171.70 373.95 171.67 C374.65 171.64 375.35 171.61 376.05 171.58 C376.74 171.55 377.44 171.52 378.14 171.49 C378.84 171.46 379.54 171.43 380.24 171.40 C380.94 171.37 381.64 171.34 382.33 171.31 C383.03 171.28 383.73 171.25 384.43 171.22 C385.13 171.19 385.83 171.16 386.53 171.13 C387.23 171.10 387.92 171.07 388.62 171.04 C389.32 171.01 390.02 170.97 390.72 170.94 C391.42 170.91 392.11 170.87 392.81 170.84 C393.51 170.80 394.21 170.77 394.91 170.73 C395.60 170.70 396.30 170.66 397.00 170.63 C397.70 170.59 398.39 170.55 399.09 170.51 C399.79 170.47 400.49 170.44 401.18 170.40 C401.88 170.36 402.58 170.32 403.28 170.28 C403.97 170.24 404.67 170.20 405.37 170.15 C406.06 170.11 406.76 170.07 407.46 170.03 C408.15 169.99 408.85 169.94 409.55 169.90 C410.24 169.86 410.94 169.81 411.64 169.77 C412.33 169.72 413.03 169.68 413.73 169.63 C414.42 169.59 415.12 169.54 415.82 169.50 C416.51 169.45 417.21 169.41 417.90 169.36 C418.60 169.31 419.30 169.26 419.99 169.22 C420.69 169.17 421.38 169.12 422.08 169.07 C422.78 169.03 423.47 168.98 424.17 168.93 C424.86 168.88 425.56 168.83 426.25 168.78 C426.95 168.73 427.65 168.68 428.34 168.63 C429.04 168.58 429.73 168.53 430.43 168.48 C431.12 168.43 431.82 168.38 432.51 168.33 C433.21 168.28 433.90 168.22 434.60 168.17 C435.29 168.12 435.99 168.07 436.68 168.02 C437.38 167.97 438.08 167.91 438.77 167.86 C439.47 167.81 440.16 167.76 440.86 167.70 C441.55 167.65 442.25 167.60 442.94 167.54 C443.64 167.49 444.33 167.44 445.02 167.39 C445.72 167.33 446.41 167.28 447.11 167.23 C447.80 167.17 448.50 167.12 449.19 167.07 C449.89 167.01 450.58 166.96 451.28 166.91 C451.97 166.85 452.67 166.80 453.36 166.74 C454.06 166.69 454.75 166.64 455.45 166.58 C456.14 166.53 456.84 166.48 457.53 166.42 C458.22 166.37 458.92 166.32 459.61 166.26 C460.31 166.21 461.00 166.16 461.70 166.10 C462.39 166.05 463.09 166.00 463.78 165.94 C464.48 165.89 465.17 165.84 465.87 165.78 C466.56 165.73 467.25 165.68 467.95 165.62 C468.64 165.57 469.34 165.52 470.03 165.47 C470.73 165.41 471.42 165.36 472.12 165.31 C472.81 165.26 473.51 165.20 474.20 165.15 C474.89 165.10 475.59 165.05 476.28 165.00 C476.98 164.95 477.67 164.90 478.37 164.85 C479.06 164.79 479.76 164.74 480.45 164.69 C481.15 164.64 481.84 164.59 482.54 164.54 C483.23 164.49 483.93 164.44 484.62 164.39 C485.31 164.35 486.01 164.30 486.70 164.25 C487.40 164.20 488.09 164.15 488.79 164.10 C489.48 164.06 490.18 164.01 490.87 163.96 C491.57 163.91 492.26 163.87 492.96 163.82 C493.65 163.77 494.35 163.73 495.04 163.68 C495.74 163.64 496.43 163.59 497.13 163.55 C497.82 163.50 498.52 163.46 499.21 163.41 C499.91 163.37 500.60 163.33 501.30 163.28 C502.00 163.24 502.69 163.20 503.39 163.16 C504.08 163.12 504.78 163.07 505.47 163.03 C506.17 162.99 506.86 162.95 507.56 162.91 C508.25 162.87 508.95 162.83 509.65 162.80 C510.34 162.76 511.04 162.72 511.73 162.68 C512.43 162.64 513.12 162.61 513.82 162.57 C514.52 162.53 515.21 162.50 515.91 162.46 C516.60 162.43 517.30 162.39 518.00 162.36 C518.69 162.32 519.39 162.29 520.08 162.26 C520.78 162.22 521.48 162.19 522.17 162.16 C522.87 162.12 523.57 162.09 524.26 162.06 C524.96 162.03 525.66 162.00 526.35 161.97 C527.05 161.94 527.74 161.91 528.44 161.88 C529.14 161.85 529.83 161.82 530.53 161.79 C531.23 161.76 531.92 161.73 532.62 161.70 C533.32 161.68 534.01 161.65 534.71 161.62 C535.41 161.60 536.10 161.57 536.80 161.54 C537.50 161.52 538.19 161.49 538.89 161.47 C539.59 161.44 540.29 161.42 540.98 161.39 C541.68 161.37 542.38 161.35 543.07 161.32 C543.77 161.30 544.47 161.28 545.16 161.25 C545.86 161.23 546.56 161.21 547.26 161.19 C547.95 161.17 548.65 161.14 549.35 161.12 C550.05 161.10 550.74 161.08 551.44 161.06 C552.14 161.04 552.83 161.02 553.53 161.00 C554.23 160.98 554.93 160.96 555.62 160.95 C556.32 160.93 557.02 160.91 557.72 160.89 C558.41 160.87 559.11 160.86 559.81 160.84 C560.51 160.82 561.20 160.81 561.90 160.79 C562.60 160.77 563.30 160.76 563.99 160.74 C564.69 160.73 565.39 160.71 566.09 160.70 C566.78 160.68 567.48 160.67 568.18 160.65 C568.88 160.64 569.58 160.62 570.27 160.61 C570.97 160.60 571.67 160.58 572.37 160.57 C573.06 160.56 573.76 160.55 574.46 160.53 C575.16 160.52 575.86 160.51 576.55 160.50 C577.25 160.49 577.95 160.48 578.65 160.47 C579.35 160.45 580.04 160.44 580.74 160.43 C581.44 160.42 582.14 160.41 582.84 160.40 C583.53 160.39 584.23 160.38 584.93 160.37 C585.63 160.37 586.33 160.36 587.02 160.35 C587.72 160.34 588.42 160.33 589.12 160.32 C589.82 160.32 590.51 160.31 591.21 160.30 C591.91 160.29 592.61 160.29 593.31 160.28 C594.00 160.27 594.70 160.26 595.40 160.26 C596.10 160.25 596.80 160.25 597.49 160.24 C598.19 160.23 598.89 160.23 599.59 160.22 C600.29 160.22 600.99 160.21 601.68 160.21 C602.38 160.20 603.08 160.20 603.78 160.19 C604.48 160.19 605.17 160.18 605.87 160.18 C606.57 160.17 607.27 160.17 607.97 160.17 C608.67 160.16 609.36 160.16 610.06 160.16 C610.76 160.15 611.46 160.15 612.16 160.15 C612.85 160.14 613.55 160.14 614.25 160.14 C614.95 160.14 615.65 160.13 616.34 160.13 C617.04 160.13 617.74 160.13 618.44 160.13 C619.14 160.12 619.84 160.12 620.53 160.12 C621.23 160.12 621.93 160.12 622.63 160.12 C623.33 160.12 624.02 160.11 624.72 160.11 C625.42 160.11 626.12 160.11 626.82 160.11 C627.52 160.11 628.21 160.11 628.91 160.11 C629.61 160.11 630.31 160.11 631.01 160.11 C631.70 160.11 632.40 160.11 633.10 160.11 C633.80 160.11 634.50 160.11 635.19 160.11 C635.89 160.11 636.59 160.11 637.29 160.11 C637.99 160.12 638.68 160.12 639.38 160.12 C640.08 160.12 640.78 160.12 641.48 160.12 C642.17 160.12 642.87 160.12 643.57 160.12 C644.27 160.13 644.97 160.13 645.66 160.13 C646.36 160.13 647.06 160.13 647.76 160.13 C648.46 160.14 649.15 160.14 649.85 160.14 C650.55 160.14 651.25 160.14 651.95 160.15 C652.64 160.15 653.34 160.15 654.04 160.15 C654.74 160.15 655.43 160.16 656.13 160.16 C656.83 160.16 657.53 160.16 658.23 160.17 C658.92 160.17 659.62 160.17 660.32 160.17 C661.02 160.17 661.71 160.18 662.41 160.18 C663.11 160.18 663.81 160.18 664.50 160.19 C665.20 160.19 665.90 160.19 666.60 160.20 C667.29 160.20 667.99 160.20 668.69 160.20 C669.39 160.21 670.08 160.21 670.78 160.21 C671.48 160.21 672.18 160.22 672.87 160.22 C673.57 160.22 674.27 160.22 674.96 160.23 C675.66 160.23 676.36 160.23 677.06 160.23 C677.75 160.24 678.45 160.24 679.15 160.24 C679.84 160.24 680.54 160.25 681.24 160.25 C681.94 160.25 682.63 160.25 683.33 160.26 C684.03 160.26 684.72 160.26 685.42 160.26 C686.12 160.27 686.81 160.27 687.51 160.27 C688.21 160.27 688.91 160.28 689.60 160.28 C690.30 160.28 691.00 160.28 691.69 160.28 C692.39 160.29 693.09 160.29 693.78 160.29 C694.48 160.29 695.18 160.29 695.87 160.29 C696.57 160.30 697.27 160.30 697.96 160.30 C698.66 160.30 699.35 160.30 700.05 160.30 C700.75 160.31 701.44 160.31 702.14 160.31 C702.84 160.31 703.53 160.31 704.23 160.31 C704.92 160.31 705.62 160.31 706.32 160.31 C707.01 160.31 707.71 160.31 708.41 160.32 C709.10 160.32 709.80 160.32 710.49 160.32 C711.19 160.32 711.88 160.32 712.58 160.32 C713.28 160.32 713.97 160.32 714.67 160.32 C715.36 160.32 716.06 160.32 716.75 160.31 C717.45 160.31 718.15 160.31 718.84 160.31 C719.54 160.31 720.23 160.31 720.93 160.31 C721.62 160.31 722.32 160.31 723.01 160.31 C723.71 160.30 724.75 160.30 725.10 160.30" stroke="#0f0" stroke-width="3.6"/>
</g>
<path d="M712.3 74.4H755" stroke="#00f" stroke-width="3.4" fill="none"/><path d="M772.7 74.4L753 69.1V79.7Z" fill="#00f" stroke="#00f" stroke-width="0.8" stroke-linejoin="miter"/>
<g stroke="#000" stroke-width="1.6" fill="none">
<rect x="121.5" y="35.5" width="649.5" height="479.9"/>
<path d="M121.5 515.2h7.4 M771.0 515.2h-7.4 M121.5 458.8h7.4 M771.0 458.8h-7.4 M121.5 402.4h7.4 M771.0 402.4h-7.4 M121.5 346.0h7.4 M771.0 346.0h-7.4 M121.5 289.6h7.4 M771.0 289.6h-7.4 M121.5 233.3h7.4 M771.0 233.3h-7.4 M121.5 176.9h7.4 M771.0 176.9h-7.4 M121.5 120.5h7.4 M771.0 120.5h-7.4 M121.5 64.1h7.4 M771.0 64.1h-7.4 M189.4 515.4v-7.4 M189.4 35.5v7.4 M286.3 515.4v-7.4 M286.3 35.5v7.4 M383.3 515.4v-7.4 M383.3 35.5v7.4 M480.2 515.4v-7.4 M480.2 35.5v7.4 M577.1 515.4v-7.4 M577.1 35.5v7.4 M674.1 515.4v-7.4 M674.1 35.5v7.4 M771.0 515.4v-7.4 M771.0 35.5v7.4"/>
</g>
<text transform="translate(103.70 525.60) scale(1.000 1.040)" font-size="29" text-anchor="end">0.0</text>
<text transform="translate(103.70 469.21) scale(1.000 1.040)" font-size="29" text-anchor="end">2.0</text>
<text transform="translate(103.70 412.82) scale(1.000 1.040)" font-size="29" text-anchor="end">4.0</text>
<text transform="translate(103.70 356.43) scale(1.000 1.040)" font-size="29" text-anchor="end">6.0</text>
<text transform="translate(103.70 300.04) scale(1.000 1.040)" font-size="29" text-anchor="end">8.0</text>
<text transform="translate(103.70 243.65) scale(1.000 1.040)" font-size="29" text-anchor="end">10.0</text>
<text transform="translate(103.70 187.26) scale(1.000 1.040)" font-size="29" text-anchor="end">12.0</text>
<text transform="translate(103.70 130.87) scale(1.000 1.040)" font-size="29" text-anchor="end">14.0</text>
<text transform="translate(103.70 74.48) scale(1.000 1.040)" font-size="29" text-anchor="end">16.0</text>
<text transform="translate(189.70 555.40) scale(1.000 1.040)" font-size="29" text-anchor="middle">1.0</text>
<text transform="translate(286.64 555.40) scale(1.000 1.040)" font-size="29" text-anchor="middle">1.5</text>
<text transform="translate(383.57 555.40) scale(1.000 1.040)" font-size="29" text-anchor="middle">2.0</text>
<text transform="translate(480.51 555.40) scale(1.000 1.040)" font-size="29" text-anchor="middle">2.5</text>
<text transform="translate(577.44 555.40) scale(1.000 1.040)" font-size="29" text-anchor="middle">3.0</text>
<text transform="translate(674.38 555.40) scale(1.000 1.040)" font-size="29" text-anchor="middle">3.5</text>
<text transform="translate(771.31 555.40) scale(1.000 1.040)" font-size="29" text-anchor="middle">4.0</text>
</svg></body></html>
